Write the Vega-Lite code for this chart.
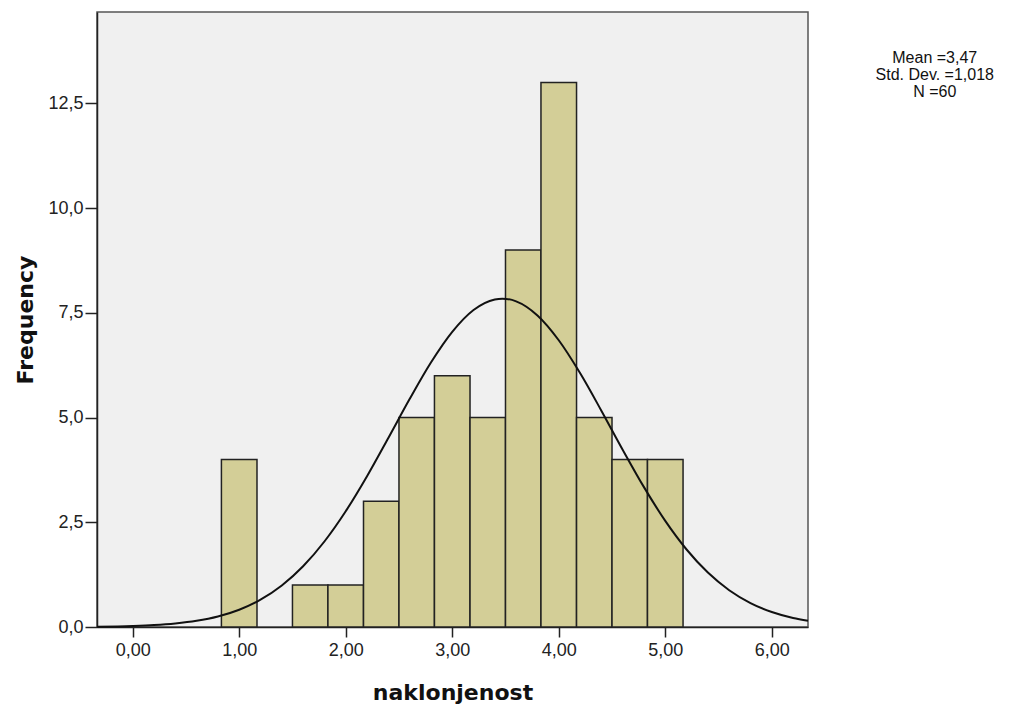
{
  "$schema": "https://vega.github.io/schema/vega-lite/v6.json",
  "width": 711,
  "height": 615,
  "autosize": {"type": "none"},
  "padding": {"left": 97, "top": 12, "right": 203, "bottom": 84},
  "background": "white",
  "config": {
    "view": {"fill": "#f0f0f0", "stroke": "#555555", "strokeWidth": 1.5},
    "font": "Liberation Sans",
    "axis": {
      "grid": false,
      "domainColor": "#222222",
      "domainWidth": 1.5,
      "tickColor": "#222222",
      "tickWidth": 1.5,
      "labelFont": "Liberation Sans",
      "labelFontSize": 18,
      "labelColor": "#222222",
      "titleFont": "DejaVu Sans",
      "titleFontWeight": "bold",
      "titleFontSize": 22,
      "titleColor": "#111111"
    }
  },
  "datasets": {
    "bars": [
      {"lo": 0.833, "hi": 1.167, "count": 4},
      {"lo": 1.5, "hi": 1.833, "count": 1},
      {"lo": 1.833, "hi": 2.167, "count": 1},
      {"lo": 2.167, "hi": 2.5, "count": 3},
      {"lo": 2.5, "hi": 2.833, "count": 5},
      {"lo": 2.833, "hi": 3.167, "count": 6},
      {"lo": 3.167, "hi": 3.5, "count": 5},
      {"lo": 3.5, "hi": 3.833, "count": 9},
      {"lo": 3.833, "hi": 4.167, "count": 13},
      {"lo": 4.167, "hi": 4.5, "count": 5},
      {"lo": 4.5, "hi": 4.833, "count": 4},
      {"lo": 4.833, "hi": 5.167, "count": 4}
    ],
    "curve": [
      {"x": -0.335, "y": 0.007},
      {"x": 0.0, "y": 0.024},
      {"x": 0.2, "y": 0.045},
      {"x": 0.4, "y": 0.083},
      {"x": 0.6, "y": 0.147},
      {"x": 0.8, "y": 0.251},
      {"x": 1.0, "y": 0.413},
      {"x": 1.2, "y": 0.653},
      {"x": 1.4, "y": 0.992},
      {"x": 1.6, "y": 1.45},
      {"x": 1.8, "y": 2.041},
      {"x": 2.0, "y": 2.763},
      {"x": 2.2, "y": 3.599},
      {"x": 2.4, "y": 4.512},
      {"x": 2.6, "y": 5.44},
      {"x": 2.8, "y": 6.312},
      {"x": 3.0, "y": 7.045},
      {"x": 3.2, "y": 7.567},
      {"x": 3.4, "y": 7.819},
      {"x": 3.47, "y": 7.838},
      {"x": 3.6, "y": 7.774},
      {"x": 3.8, "y": 7.437},
      {"x": 4.0, "y": 6.845},
      {"x": 4.2, "y": 6.061},
      {"x": 4.4, "y": 5.164},
      {"x": 4.6, "y": 4.233},
      {"x": 4.8, "y": 3.339},
      {"x": 5.0, "y": 2.533},
      {"x": 5.2, "y": 1.85},
      {"x": 5.4, "y": 1.299},
      {"x": 5.6, "y": 0.878},
      {"x": 5.8, "y": 0.571},
      {"x": 6.0, "y": 0.357},
      {"x": 6.2, "y": 0.215},
      {"x": 6.34, "y": 0.148}
    ],
    "stats": [
      {"x": 7.53, "y": 13.78, "label": "Mean =3,47\nStd. Dev. =1,018\nN =60"}
    ]
  },
  "layer": [
    {
      "data": {"name": "bars"},
      "mark": {"type": "rect", "fill": "#d3ce97", "stroke": "#222222", "strokeWidth": 1.5},
      "encoding": {
        "x": {
          "field": "lo", "type": "quantitative",
          "scale": {"domain": [-0.335, 6.34], "nice": false, "zero": false},
          "axis": {
            "values": [0, 1, 2, 3, 4, 5, 6],
            "labelExpr": "replace(format(datum.value, '.2f'), '.', ',')",
            "title": "naklonjenost",
            "tickSize": 10,
            "labelPadding": 4,
            "titlePadding": 23
          }
        },
        "x2": {"field": "hi"},
        "y": {
          "field": "count", "type": "quantitative",
          "scale": {"domain": [0, 14.68], "nice": false},
          "axis": {
            "values": [0, 2.5, 5, 7.5, 10, 12.5],
            "labelExpr": "replace(format(datum.value, '.1f'), '.', ',')",
            "title": "Frequency",
            "tickSize": 12,
            "labelPadding": 2,
            "titlePadding": 10
          }
        },
        "y2": {"datum": 0}
      }
    },
    {
      "data": {"name": "curve"},
      "mark": {"type": "line", "color": "#111111", "strokeWidth": 2, "interpolate": "monotone"},
      "encoding": {
        "x": {"field": "x", "type": "quantitative"},
        "y": {"field": "y", "type": "quantitative"}
      }
    },
    {
      "data": {"name": "stats"},
      "mark": {"type": "text", "align": "center", "baseline": "top", "fontSize": 16, "lineHeight": 17, "lineBreak": "\n", "font": "Liberation Sans", "color": "#111111", "clip": false},
      "encoding": {
        "x": {"field": "x", "type": "quantitative"},
        "y": {"field": "y", "type": "quantitative"},
        "text": {"field": "label"}
      }
    }
  ]
}
